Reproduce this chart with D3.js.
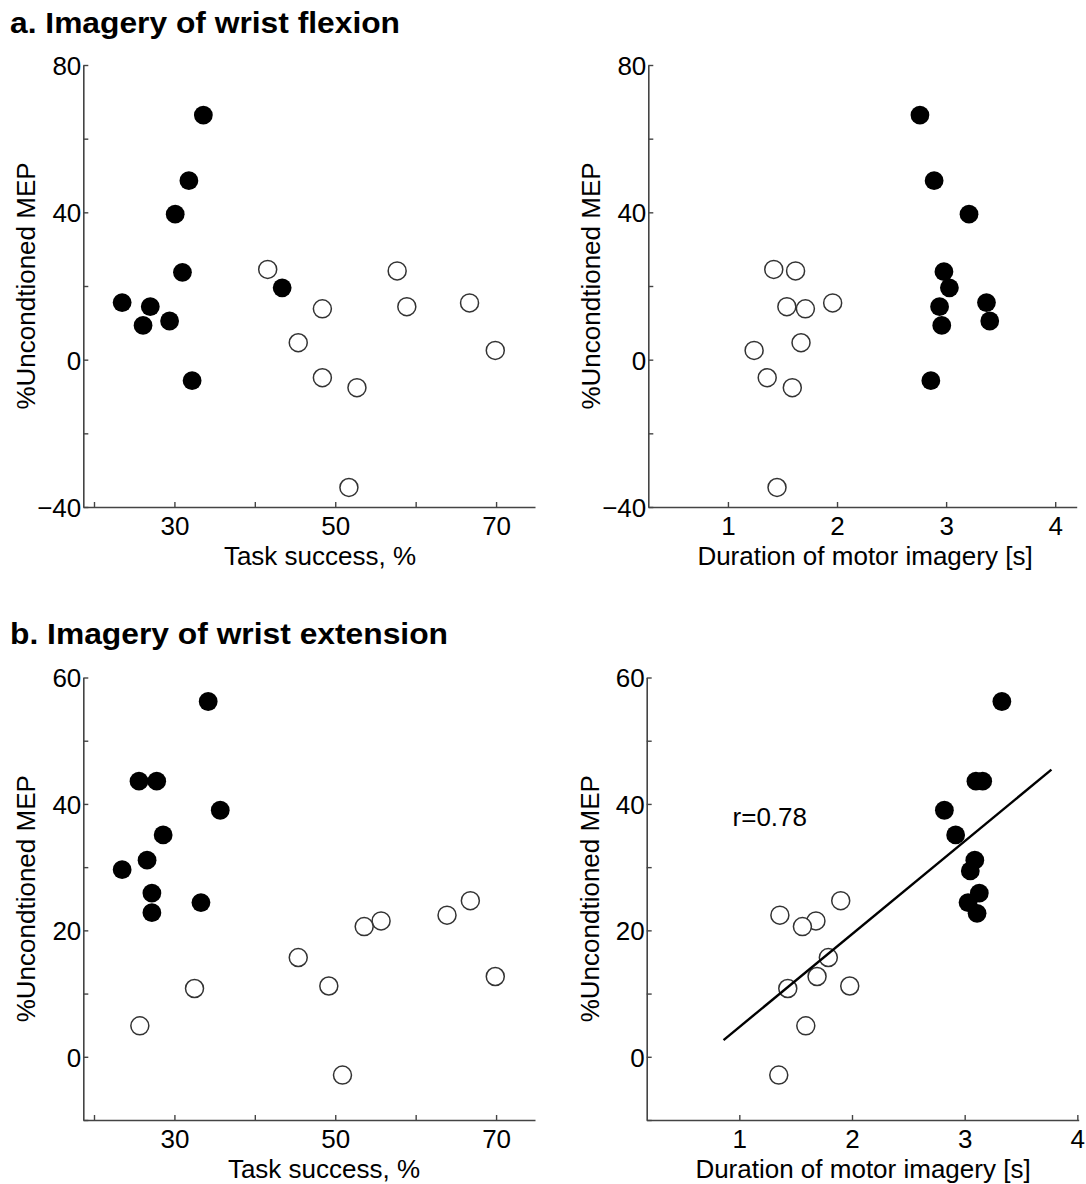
<!DOCTYPE html>
<html><head><meta charset="utf-8">
<script src="https://cdn.jsdelivr.net/npm/d3@7"></script>
<style>
body{margin:0;background:#fff}
svg{display:block}
text{font-family:"Liberation Sans",Arial,Helvetica,sans-serif;fill:#000}
</style>
</head><body>
<svg id="chart" width="1086" height="1184"></svg>
<script>
// ---------- text ----------
const titleA = "a. Imagery of wrist flexion";
const titleB = "b. Imagery of wrist extension";
const yLabel = "%Uncondtioned MEP";
const xLabelTask = "Task success, %";
const xLabelDur = "Duration of motor imagery [s]";
const rLabel = "r=0.78";

// ---------- ticks ----------
const taskTicks = [20, 30, 40, 50, 60, 70];
const taskTickLabels = ["", "30", "", "50", "", "70"];
const durTicks = [1, 2, 3, 4];
const durTickLabels = ["1", "2", "3", "4"];
const flexTicks = [-40, -20, 0, 20, 40, 60, 80];
const flexTickLabels = ["\u221240", "", "0", "", "40", "", "80"];
const extTicks = [-10, 0, 10, 20, 30, 40, 50, 60];
const extTickLabels = ["", "0", "", "20", "", "40", "", "60"];

// ---------- data: [x, %Unconditioned MEP] ----------
// a. flexion, task success (filled = imagery group, open = other)
const flexTaskFilled = [[33.6,66.4],[31.8,48.6],[30.1,39.5],[31.0,23.7],[23.5,15.5],[27.0,14.4],[26.1,9.3],[29.4,10.5],[32.2,-5.7],[43.4,19.5]];
const flexTaskOpen = [[41.6,24.5],[57.7,24.1],[48.4,13.8],[58.9,14.4],[66.7,15.4],[45.4,4.6],[69.9,2.5],[48.4,-4.9],[52.7,-7.6],[51.7,-34.7]];
// a. flexion, duration of motor imagery
const flexDurFilled = [[2.76,66.4],[2.89,48.6],[3.21,39.5],[2.98,23.9],[3.03,19.5],[3.37,15.5],[2.94,14.4],[2.96,9.3],[3.40,10.5],[2.86,-5.7]];
const flexDurOpen = [[1.42,24.5],[1.62,24.1],[1.54,14.4],[1.71,13.8],[1.96,15.4],[1.67,4.6],[1.24,2.5],[1.36,-4.9],[1.59,-7.6],[1.45,-34.7]];
// b. extension, task success
const extTaskFilled = [[34.2,56.2],[25.6,43.6],[27.8,43.6],[35.7,39.0],[28.6,35.1],[26.6,31.1],[23.5,29.6],[27.2,25.9],[27.2,22.8],[33.3,24.4]];
const extTaskOpen = [[66.8,24.7],[63.9,22.4],[55.7,21.5],[53.6,20.6],[45.4,15.7],[69.9,12.7],[49.2,11.2],[32.5,10.8],[25.7,4.9],[50.9,-2.9]];
// b. extension, duration of motor imagery
const extDurFilled = [[3.33,56.2],[3.10,43.6],[3.16,43.6],[2.82,39.0],[2.92,35.1],[3.09,31.1],[3.05,29.4],[3.13,25.9],[3.03,24.4],[3.11,22.7]];
const extDurOpen = [[1.90,24.7],[1.36,22.4],[1.68,21.5],[1.56,20.6],[1.79,15.7],[1.69,12.7],[1.98,11.2],[1.43,10.8],[1.59,4.9],[1.35,-2.9]];
// regression line (b, duration)
const fitRange = [0.86, 3.77];
const fitSlope = 14.7;
const fitIntercept = -10.0;
const rLabelPos = [0.94, 36.5];

// ---------- layout ----------
const svg = d3.select("#chart");
const FONT = 26;

const panels = [
  {xr:[83.3,535], yr:[507,65], xd:[18.67,74.84], yd:[-40,80], xt:taskTicks, xtl:taskTickLabels, yt:flexTicks, ytl:flexTickLabels,
   xl:xLabelTask, xlx:320, filled:flexTaskFilled, open:flexTaskOpen},
  {xr:[648.3,1076.7], yr:[507,65], xd:[0.27,4.197], yd:[-40,80], xt:durTicks, xtl:durTickLabels, yt:flexTicks, ytl:flexTickLabels,
   xl:xLabelDur, xlx:865, filled:flexDurFilled, open:flexDurOpen},
  {xr:[83.3,535], yr:[1120,677.5], xd:[18.67,74.84], yd:[-10,60], xt:taskTicks, xtl:taskTickLabels, yt:extTicks, ytl:extTickLabels,
   xl:xLabelTask, xlx:324, filled:extTaskFilled, open:extTaskOpen},
  {xr:[646.7,1078.7], yr:[1120,677.5], xd:[0.178,4.012], yd:[-10,60], xt:durTicks, xtl:durTickLabels, yt:extTicks, ytl:extTickLabels,
   xl:xLabelDur, xlx:863, filled:extDurFilled, open:extDurOpen, fit:true}
];

svg.append("text").attr("x", 10).attr("y", 33).attr("font-weight", "bold").attr("font-size", 30)
  .attr("textLength", 390).attr("lengthAdjust", "spacingAndGlyphs").text(titleA);
svg.append("text").attr("x", 10).attr("y", 644).attr("font-weight", "bold").attr("font-size", 30)
  .attr("textLength", 438).attr("lengthAdjust", "spacingAndGlyphs").text(titleB);

panels.forEach(p => {
  const x = d3.scaleLinear().domain(p.xd).range(p.xr);
  const y = d3.scaleLinear().domain(p.yd).range(p.yr);
  const g = svg.append("g");

  const xAxis = d3.axisBottom(x).tickValues(p.xt).tickFormat((d,i) => p.xtl[i])
    .tickSizeInner(-5).tickSizeOuter(0).tickPadding(11);
  const yAxis = d3.axisLeft(y).tickValues(p.yt).tickFormat((d,i) => p.ytl[i])
    .tickSizeInner(-5).tickSizeOuter(0).tickPadding(2);

  const gx = g.append("g").attr("transform", `translate(0,${p.yr[0]})`).call(xAxis);
  const gy = g.append("g").attr("transform", `translate(${p.xr[0]},0)`).call(yAxis);
  [gx, gy].forEach(a => {
    a.select(".domain").attr("stroke", "#444").attr("stroke-width", 1.6);
    a.selectAll(".tick line").attr("stroke", "#444").attr("stroke-width", 1.4);
    a.selectAll(".tick text").attr("font-size", FONT).attr("font-family", null).attr("fill", "#000");
    a.selectAll(".tick text").filter(function(){ return this.textContent === ""; }).remove();
  });
  gx.selectAll(".tick text").attr("dy", null).attr("y", 28);
  gy.selectAll(".tick text").attr("dy", "0.36em");

  // axis labels
  g.append("text").attr("x", p.xlx).attr("y", p.yr[0] + 58).attr("text-anchor", "middle")
    .attr("font-size", FONT).text(p.xl);
  const yc = (p.yr[0] + p.yr[1]) / 2;
  g.append("text").attr("transform", `translate(${p.xr[0] - 48},${yc}) rotate(-90)`)
    .attr("text-anchor", "middle").attr("font-size", FONT).text(yLabel);

  // markers
  g.append("g").selectAll("circle").data(p.open).join("circle")
    .attr("cx", d => x(d[0])).attr("cy", d => y(d[1])).attr("r", 9)
    .attr("fill", "#fff").attr("stroke", "#333").attr("stroke-width", 1.5);
  g.append("g").selectAll("circle").data(p.filled).join("circle")
    .attr("cx", d => x(d[0])).attr("cy", d => y(d[1])).attr("r", 9.4)
    .attr("fill", "#000");

  if (p.fit) {
    const line = d3.line().x(d => x(d)).y(d => y(fitIntercept + fitSlope * d));
    g.append("path").datum(fitRange).attr("d", line)
      .attr("fill", "none").attr("stroke", "#000").attr("stroke-width", 2.4);
    g.append("text").attr("x", x(rLabelPos[0])).attr("y", y(rLabelPos[1]))
      .attr("font-size", FONT).text(rLabel);
  }
});
</script>
</body></html>
